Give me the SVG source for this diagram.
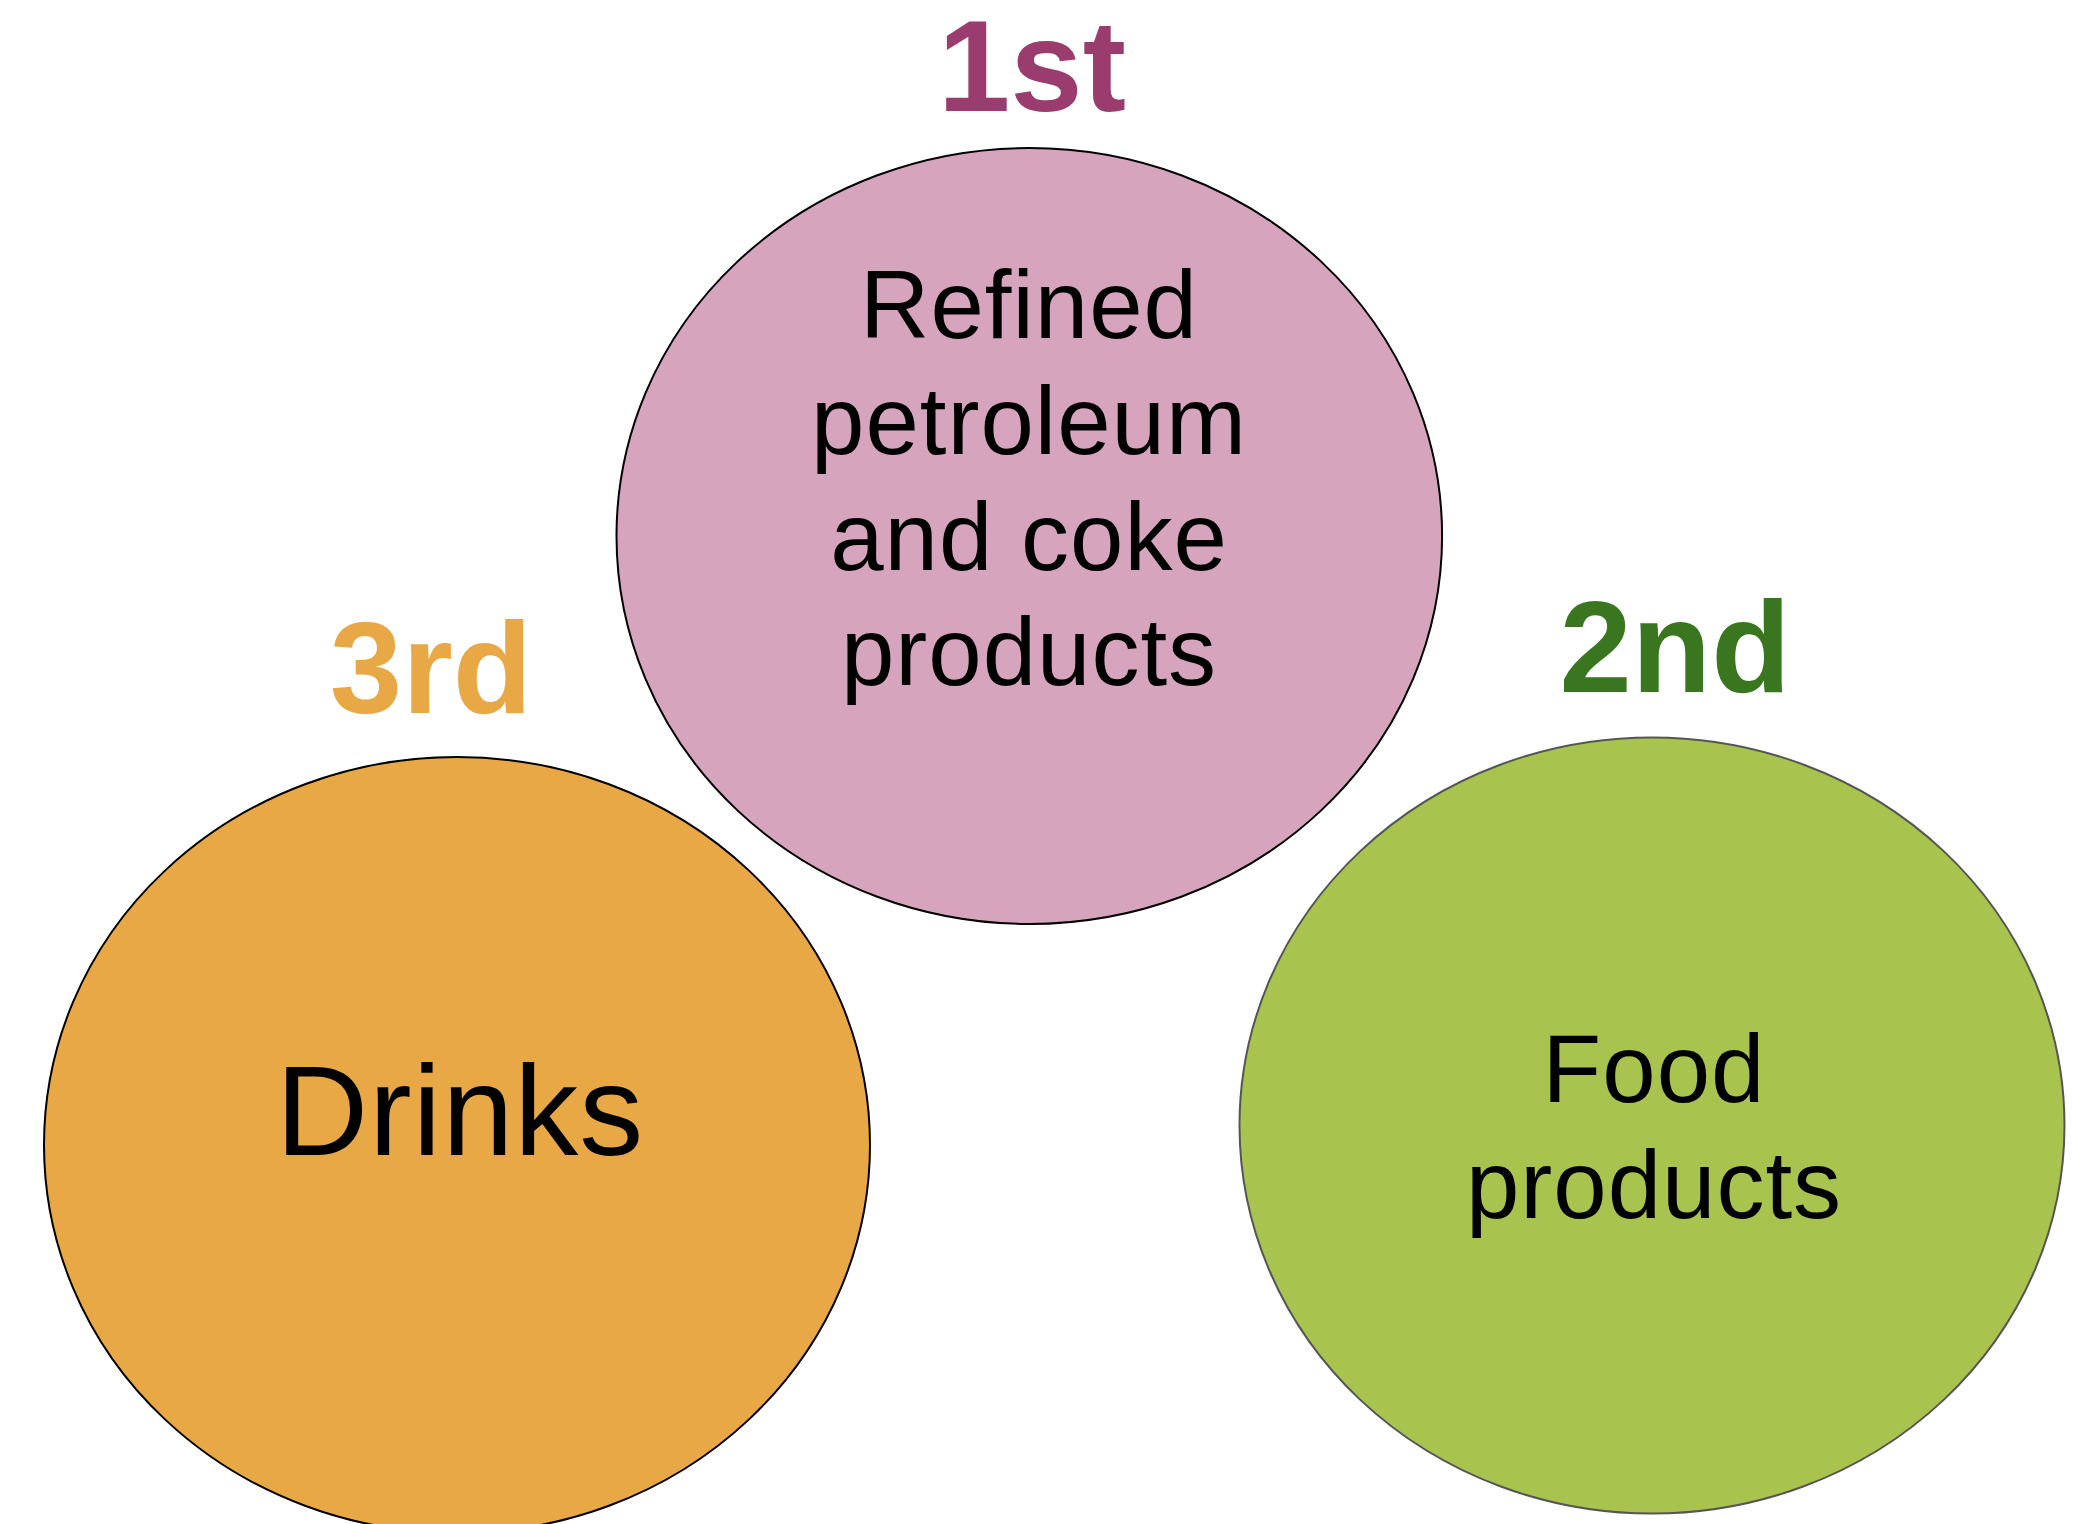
<svg xmlns="http://www.w3.org/2000/svg" width="2080" height="1524" viewBox="0 0 2080 1524">
<style>
.rank{font-family:"Liberation Sans",Arial,Helvetica,sans-serif;font-weight:bold;font-size:130px;text-anchor:middle}
.lbl{font-family:"Liberation Sans",Arial,Helvetica,sans-serif;font-size:96px;text-anchor:middle;fill:#000;letter-spacing:1px}
.node{stroke-width:2}
</style>
<rect width="2080" height="1524" fill="#fff"/>
<g id="node-refined">
<ellipse class="node" cx="1029.3" cy="536" rx="412.8" ry="388" fill="#D6A4BC" stroke="#000"/>
<text class="lbl" x="1029" y="338">Refined</text>
<text class="lbl" x="1029" y="454">petroleum</text>
<text class="lbl" x="1029" y="570">and coke</text>
<text class="lbl" x="1029" y="685">products</text>
</g>
<g id="node-drinks">
<ellipse class="node" cx="457" cy="1145" rx="413" ry="388" fill="#E9A846" stroke="#000"/>
<text class="lbl" x="460" y="1155" style="font-size:128px">Drinks</text>
</g>
<g id="node-food">
<ellipse class="node" cx="1652" cy="1125.5" rx="412.5" ry="388" fill="#A8C44E" stroke="#555"/>
<text class="lbl" x="1654" y="1102">Food</text>
<text class="lbl" x="1654" y="1218">products</text>
</g>
<g id="label-1st"><text class="rank" x="1032" y="111" fill="#9A3C6E">1st</text></g>
<g id="label-3rd"><text class="rank" x="431" y="713" fill="#E9A846">3rd</text></g>
<g id="label-2nd"><text class="rank" x="1675" y="692" fill="#3A761F">2nd</text></g>
<g id="connectors"></g>
</svg>
